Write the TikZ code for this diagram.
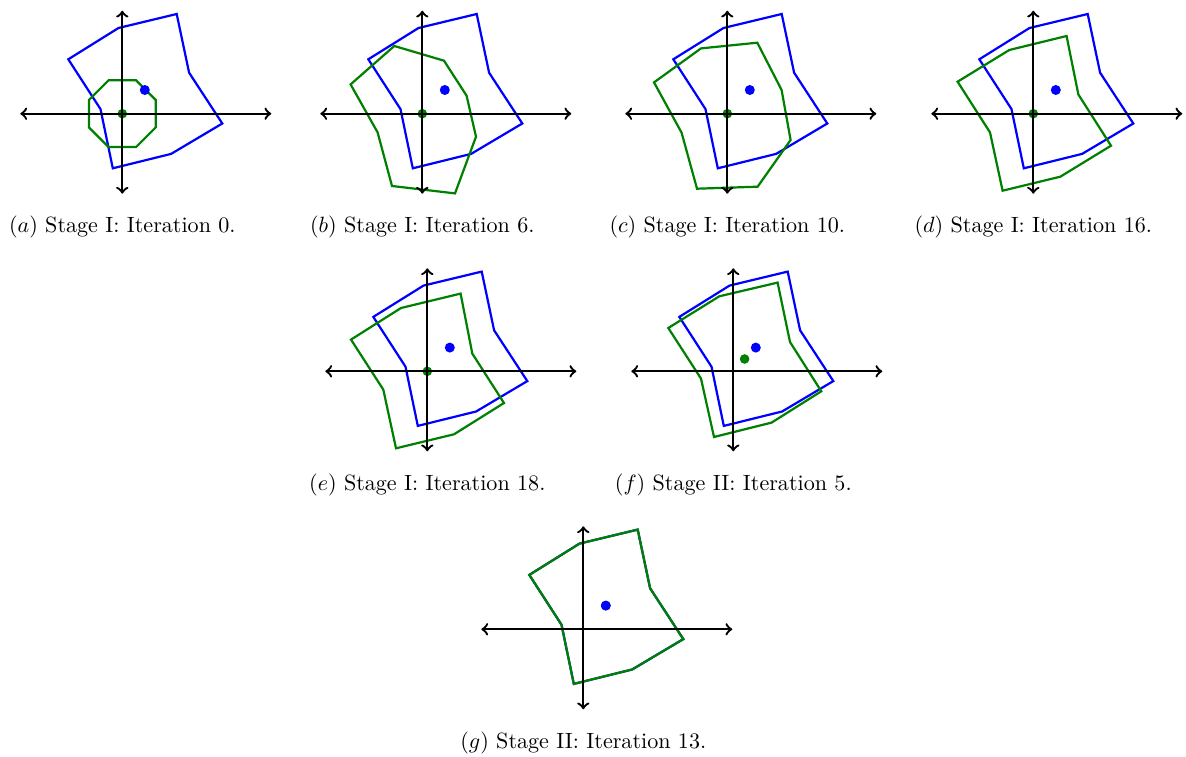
\documentclass[tikz,border=0pt]{standalone}
\usetikzlibrary{positioning}
\definecolor{srcgreen}{RGB}{0,128,0}

\tikzset{
  target/.style={draw=blue,line width=1pt,line join=miter},
  source/.style={draw=srcgreen,line width=1pt,line join=miter},
  axis/.style={line width=1.05pt,<->},
  caption/.style={anchor=base,font=\normalsize}
}

% one panel: origin, name, green polygon, green dot, caption
\newcommand{\panel}[5]{%
  \begin{scope}[shift={#1}]
    \draw[target] (-54,54.4) -- (-3.8,85.7) -- (54.4,99.7) -- (66.8,41)
      -- (100,-9.8) -- (48.8,-40.2) -- (-9.5,-54.6) -- (-21.8,4.6) -- cycle;
    \draw[source] #3 -- cycle;
    \fill[srcgreen] #4 circle (4.8);
    \draw[axis] (-102,0) -- (149,0);
    \draw[axis] (0,-80) -- (0,103);
    \fill[blue] (22.5,23.7) circle (5);
    \node[caption] (cap#2) at (0,-119) {#5};
  \end{scope}}

\begin{document}
\begin{tikzpicture}[x=0.4525pt,y=0.4525pt]
\useasboundingbox (0,0) rectangle (1186,-757);

\panel{(122.3,-113.7)}{a}{(22.5:36.1) -- (67.5:36.1) -- (112.5:36.1) -- (157.5:36.1)
  -- (202.5:36.1) -- (247.5:36.1) -- (292.5:36.1) -- (337.5:36.1)}{(0,0)}
  {$(a)$ Stage I: Iteration 0.}

\panel{(422.3,-113.7)}{b}{(-28,67.7) -- (21.7,53) -- (44.3,18) -- (53.7,-23)
  -- (32.7,-79.7) -- (-30.3,-72.3) -- (-44.7,-18.7) -- (-71.7,29.3)}{(0,0)}
  {$(b)$ Stage I: Iteration 6.}

\panel{(727.3,-113.7)}{c}{(-26.3,65.3) -- (30,71) -- (54.3,23.7) -- (63.3,-26.3)
  -- (30.3,-73) -- (-30.3,-75) -- (-45.7,-19) -- (-73.3,31.3)}{(0,0)}
  {$(c)$ Stage I: Iteration 10.}

\panel{(1033.3,-113.7)}{d}{(-24,63.7) -- (33.3,77.7) -- (45,19.3) -- (77.7,-32)
  -- (27,-63) -- (-30.7,-77) -- (-43.3,-18.7) -- (-75.7,32)}{(0,0)}
  {$(d)$ Stage I: Iteration 16.}

\panel{(427.3,-371.3)}{e}{(-26.3,63.3) -- (33.3,77.7) -- (45,17.7) -- (76.7,-31.7)
  -- (26.7,-63) -- (-31.3,-77) -- (-44,-18.3) -- (-76.3,31.7)}{(0,0)}
  {$(e)$ Stage I: Iteration 18.}

\panel{(733.3,-371.3)}{f}{(-14,75) -- (44.3,88.7) -- (56.7,29.3) -- (88,-20)
  -- (38.3,-51.3) -- (-19.3,-65.7) -- (-32.3,-7.3) -- (-65,43.3)}{(11.3,12.3)}
  {$(f)$ Stage II: Iteration 5.}

\panel{(583.3,-629.3)}{g}{(-54,54.4) -- (-3.8,85.7) -- (54.4,99.7) -- (66.8,41)
  -- (100,-9.8) -- (48.8,-40.2) -- (-9.5,-54.6) -- (-21.8,4.6)}{(22.5,23.7)}
  {$(g)$ Stage II: Iteration 13.}
\end{tikzpicture}
\end{document}
